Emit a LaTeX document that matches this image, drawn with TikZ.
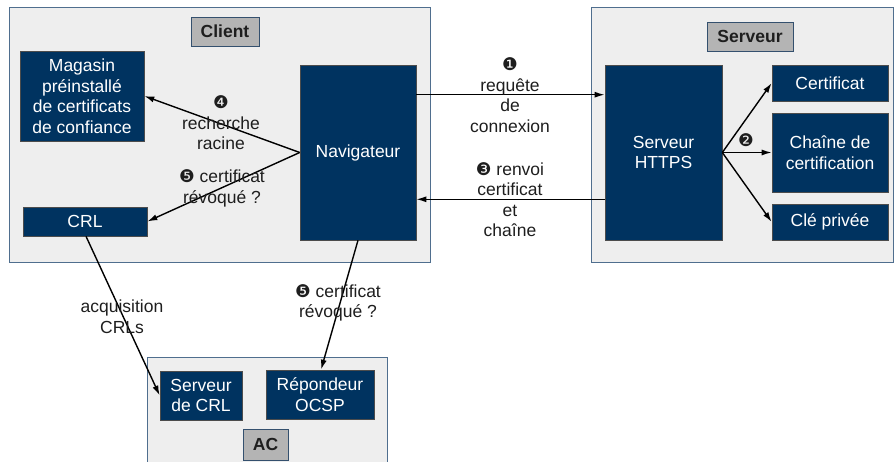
\documentclass[tikz,border=0pt]{standalone}
\usepackage{fontspec}
\setmainfont{Liberation Sans}
\newfontfamily\dingfont{DejaVu Sans}
\usetikzlibrary{arrows.meta}
\definecolor{boxblue}{HTML}{003360}
\definecolor{framebg}{HTML}{EEEEEE}
\definecolor{frameline}{HTML}{4F6E8E}
\definecolor{tagbg}{HTML}{B4B4B4}
\definecolor{tagline}{HTML}{34506E}
\definecolor{ink}{HTML}{1E1E1E}
\tikzset{
  frame/.style={draw=frameline, fill=framebg, line width=0.9pt},
  tag/.style={draw=tagline, fill=tagbg, line width=0.9pt, inner sep=0pt,
    font=\fontsize{17.5}{20.5}\selectfont\bfseries, text=ink},
  block/.style={draw=black!70, fill=boxblue, line width=0.6pt, inner sep=0pt,
    text=white, align=center, font=\fontsize{17.5}{20.5}\selectfont},
  note/.style={text=ink, align=center, inner sep=0pt,
    font=\fontsize{17.5}{20.5}\selectfont},
  link/.style={draw=black, line width=1.4pt, -{Latex[length=10pt,width=6pt]}},
}
\newcommand{\num}[1]{{\dingfont #1}}
\begin{document}
\begin{tikzpicture}[x=1pt,y=-1pt]
\useasboundingbox (0,0) rectangle (894,462);
\clip (0,0) rectangle (894,462);

% group frames
\draw[frame] (9,7) rectangle (430,262);
\draw[frame] (591,7) rectangle (893,262);
\draw[frame] (147,357) rectangle (387,475);

% group titles
\node[tag, minimum width=68pt, minimum height=29pt] (tclient) at (225,31.5) {Client};
\node[tag, minimum width=86pt, minimum height=29pt] (tserveur) at (750,36.5) {Serveur};
\node[tag, minimum width=45pt, minimum height=31pt] (tac) at (265.5,444.5) {AC};

% client side
\node[block, minimum width=124pt, minimum height=90pt] (mag) at (82,96)
  {Magasin\\préinstallé\\de certificats\\de confiance};
\node[block, minimum width=116pt, minimum height=175pt] (nav) at (358,152.5) {Navigateur};
\node[block, minimum width=124pt, minimum height=29pt] (crl) at (85,221.5) {CRL};

% server side
\node[block, minimum width=117pt, minimum height=175pt] (hs) at (663.5,152.5) {Serveur\\HTTPS};
\node[block, minimum width=116pt, minimum height=36pt] (cert) at (830,83) {Certificat};
\node[block, minimum width=116pt, minimum height=79pt] (chain) at (830,152.5) {Chaîne de\\certification};
\node[block, minimum width=116pt, minimum height=36pt] (key) at (830,222) {Clé privée};

% certification authority
\node[block, minimum width=82pt, minimum height=49pt] (scrl) at (201,395.5) {Serveur\\de CRL};
\node[block, minimum width=108pt, minimum height=49pt] (ocsp) at (320,394.5) {Répondeur\\OCSP};

% connectors
\draw[link] ([yshift=-30pt]nav.north east) -- ([yshift=-30pt]hs.north west);
\draw[link] ([yshift=41pt]hs.south west) -- ([yshift=41pt]nav.south east);
\draw[link] (hs.east) -- (cert.west);
\draw[link] (hs.east) -- (chain.west);
\draw[link] (hs.east) -- (key.west);
\draw[link] (nav.west) -- (mag.east);
\draw[link] (nav.west) -- (crl.east);
\draw[link] ([xshift=1pt]crl.south) -- (scrl.west);
\draw[link] (nav.south) -- ([xshift=1pt]ocsp.north);

% step labels
\node[note] (l1) at (510,95) {\num{❶}\\requête\\de\\connexion};
\node[note] (l3) at (510,199.5) {\num{❸} renvoi\\certificat\\et\\chaîne};
\node[note] (l2) at (746,140) {\num{❷}};
\node[note] (l4) at (221,123) {\num{❹}\\recherche\\racine};
\node[note] (l5) at (222,188.5) {\num{❺} certificat\\révoqué ?};
\node[note] (lacq) at (122,316.5) {acquisition\\CRLs};
\node[note] (l5b) at (338,303) {\num{❺} certificat\\révoqué ?};
\end{tikzpicture}
\end{document}
